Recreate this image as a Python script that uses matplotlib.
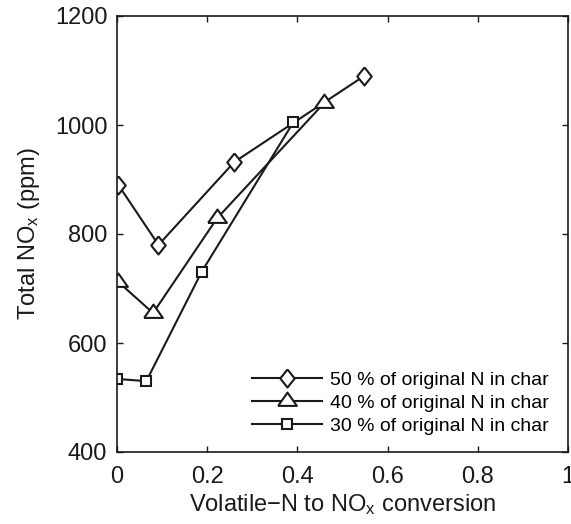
import matplotlib
matplotlib.use("Agg")
import matplotlib.pyplot as plt
import numpy as np

plt.rcParams['font.family'] = ['Liberation Sans', 'DejaVu Sans']
plt.rcParams['mathtext.default'] = 'regular'

# Data
x50 = [0.003, 0.092, 0.260, 0.548]
y50 = [890, 780, 932, 1090]
x40 = [0.003, 0.080, 0.222, 0.459]
y40 = [712, 655, 829, 1040]
x30 = [0.001, 0.065, 0.188, 0.391]
y30 = [534, 530, 731, 1005]
labels = ["50 % of original N in char", "40 % of original N in char", "30 % of original N in char"]
xticks = [0, 0.2, 0.4, 0.6, 0.8, 1]
xticklabels = ["0", "0.2", "0.4", "0.6", "0.8", "1"]
yticks = [400, 600, 800, 1000, 1200]

diamond = [(0, 1), (0.8, 0), (0, -1), (-0.8, 0), (0, 1)]
tri = [(-1, -0.47), (1, -0.47), (0, 0.95), (-1, -0.47)]

fig = plt.figure(figsize=(5.71, 5.24), dpi=100)
ax = fig.add_axes([117/571, 1-452/524, 451/571, 436/524])

c = '#1a1a1a'
kw = dict(color=c, lw=1.5, mfc='white', mec=c, mew=1.5)
ax.plot(x50, y50, marker=diamond, ms=13, label=labels[0], **kw)
ax.plot(x40, y40, marker=tri, ms=13.5, label=labels[1], **kw)
ax.plot(x30, y30, marker='s', ms=7.5, label=labels[2], **kw)

ax.set_xlim(0, 1)
ax.set_ylim(400, 1200)
ax.set_xticks(xticks)
ax.set_xticklabels(xticklabels)
ax.set_yticks(yticks)
ax.tick_params(direction='in', top=True, right=True, length=4, width=1,
               labelsize=17, colors=c, pad=7)
ax.tick_params(axis='x', pad=10)
for s in ax.spines.values():
    s.set_linewidth(1.2)
    s.set_color(c)

ax.set_xlabel("Volatile\u2212N to NO$_x$ conversion", fontsize=17, color=c, labelpad=3)
ax.set_ylabel("Total NO$_x$ (ppm)", fontsize=17, color=c, labelpad=9)

leg = ax.legend(loc='lower right', frameon=False, fontsize=14, handlelength=3.6,
                handletextpad=0.4, labelspacing=0.28, borderaxespad=0.6,
                bbox_to_anchor=(1.0, -0.005))

fig.savefig("out.png", dpi=100)
